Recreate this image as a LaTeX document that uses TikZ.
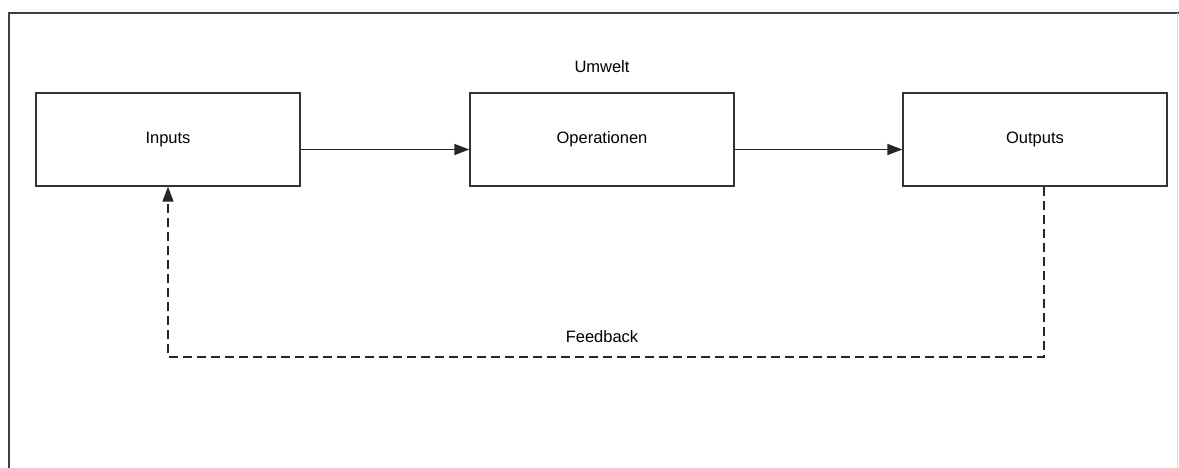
\documentclass[tikz,border=0pt]{standalone}
\usepackage{fontspec}
\setmainfont{Liberation Sans}
\usetikzlibrary{arrows.meta}
\begin{document}
\begin{tikzpicture}[x=1pt,y=-1pt,
  block/.style={draw=black!80, line width=1.3pt, minimum width=264pt, minimum height=93pt, inner sep=0pt, font=\fontsize{16.5}{19}\selectfont},
  label/.style={font=\fontsize{16.5}{19}\selectfont, inner sep=0pt},
  flow/.style={draw=black!85, line width=1.5pt, -{Triangle[length=15pt,width=11pt]}},
  feedback/.style={flow, dash pattern=on 9pt off 5pt}]
  \useasboundingbox (0,0) rectangle (1179,468);
  % surrounding frame (open at the right and bottom)
  \draw[black!75, line width=2pt] (9,468) -- (9,13) -- (1179,13);
  \draw[black!15, line width=1pt] (1177,13) -- (1177,468);
  % blocks
  \node[block] (in)  at (168,139.5) {Inputs};
  \node[block] (op)  at (602,139.5) {Operationen};
  \node[block] (out) at (1035,139.5) {Outputs};
  \node[label] (env) at (602,67) {Umwelt};
  \node[label] (fb)  at (602,337) {Feedback};
  % forward flow, running below the block centres
  \coordinate (lvl) at (0,149.5);
  \draw[flow] (in.east |- lvl) -- (op.west |- lvl);
  \draw[flow] (op.east |- lvl) -- (out.west |- lvl);
  % feedback loop
  \coordinate (c1) at (1044,357);
  \coordinate (c2) at (168,357);
  \draw[feedback] (out.south -| c1) -- (c1) -- (c2) -- (in.south);
\end{tikzpicture}
\end{document}
